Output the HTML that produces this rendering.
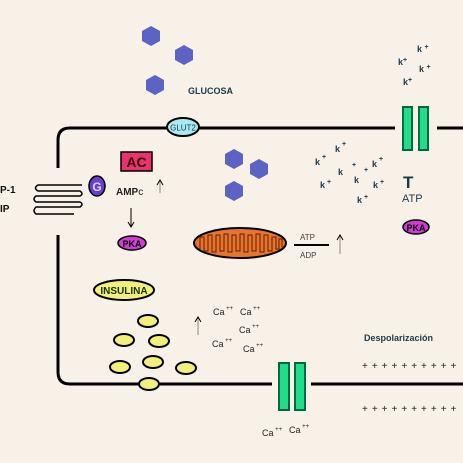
<!DOCTYPE html>
<html><head><meta charset="utf-8"><style>
html,body{margin:0;padding:0;background:#f8f1e8;}
svg{display:block;font-family:"Liberation Sans",sans-serif;}
</style></head><body>
<svg width="463" height="463" viewBox="0 0 463 463">
<rect width="463" height="463" fill="#f8f1e8"/>
<g stroke="#000" stroke-width="3" fill="none">
<path d="M58 168 V140 Q58 128 70 128 H167"/>
<line x1="199" y1="128" x2="395" y2="128"/>
<line x1="437" y1="128" x2="463" y2="128"/>
<path d="M58 235 V372 Q58 384 70 384 H272"/>
<line x1="311" y1="384" x2="463" y2="384"/>
</g>
<g fill="#5b63c4">
<polygon points="151,26 160,31 160,41 151,46 142,41 142,31"/>
<polygon points="184,45 193,50 193,60 184,65 175,60 175,50"/>
<polygon points="155,75 164,80 164,90 155,95 146,90 146,80"/>
<polygon points="234,149 243,154 243,164 234,169 225,164 225,154"/>
<polygon points="259,159 268,164 268,174 259,179 250,174 250,164"/>
<polygon points="234,181 243,186 243,196 234,201 225,196 225,186"/>
</g>
<text x="188" y="94" font-size="9" font-weight="bold" fill="#1a3a4a">GLUCOSA</text>
<g>
<ellipse cx="183" cy="127" rx="16" ry="9" fill="#a8ecf0" stroke="#000" stroke-width="2"/>
<text x="183" y="130.5" font-size="8" text-anchor="middle" fill="#135">GLUT2</text>
</g>
<g fill="#22dd88" stroke="#064" stroke-width="2">
<rect x="403" y="107" width="9" height="43"/><rect x="419" y="107" width="9" height="43"/>
</g>
<g fill="#22dd88" stroke="#064" stroke-width="2">
<rect x="279" y="363" width="10" height="47"/><rect x="295" y="363" width="10" height="47"/>
</g>
<g font-size="9" font-weight="bold" fill="#1a3a4a">
<text x="417" y="52">k <tspan font-size="7" dy="-3">+</tspan></text>
<text x="398" y="65">k<tspan font-size="7" dy="-3">+</tspan></text>
<text x="419" y="72">k <tspan font-size="7" dy="-3">+</tspan></text>
<text x="403" y="85">k<tspan font-size="7" dy="-3">+</tspan></text>
<text x="335" y="152">k<tspan font-size="7" dy="-6"> +</tspan></text>
<text x="315" y="165">k<tspan font-size="7" dy="-6"> +</tspan></text>
<text x="338" y="175">k</text><text x="352" y="167" font-size="7">+</text>
<text x="364" y="172" font-size="7">+</text>
<text x="372" y="167">k<tspan font-size="7" dy="-6"> +</tspan></text>
<text x="354" y="183">k</text>
<text x="320" y="188">k<tspan font-size="7" dy="-4"> +</tspan></text>
<text x="373" y="188">k<tspan font-size="7" dy="-4"> +</tspan></text>
<text x="357" y="203">k<tspan font-size="7" dy="-4"> +</tspan></text>
</g>
<text x="403" y="188" font-size="17" font-weight="bold" fill="#1a3a4a">T</text>
<text x="402" y="202" font-size="11" fill="#1a3a4a">ATP</text>
<g>
<ellipse cx="416" cy="227" rx="13" ry="7" fill="#d23cd6" stroke="#000" stroke-width="1.5"/>
<text x="416" y="231" font-size="9" font-weight="bold" text-anchor="middle">PKA</text>
</g>
<g>
<ellipse cx="240" cy="243" rx="46" ry="15" fill="#e8742e" stroke="#000" stroke-width="2"/>
<path d="M200 249 V237 h4 V251 h4 V235 h4 V252 h4 V235 h4 V251 h4 V234 h4 V252 h4 V235 h4 V251 h4 V234 h4 V252 h4 V235 h4 V251 h4 V234 h4 V252 h4 V235 h4 V251 h4 V237 h4 V249 h3 V239 h3 V247" fill="none" stroke="#5a2000" stroke-width="1"/>
</g>
<g font-size="8" fill="#444">
<text x="300" y="240">ATP</text>
<line x1="294" y1="245" x2="329" y2="245" stroke="#000" stroke-width="2"/>
<text x="300" y="258">ADP</text>
</g>
<g stroke="#888" fill="none" stroke-width="1">
<line x1="340" y1="254" x2="340" y2="236"/><path d="M337 240 L340 235 L343 240" stroke="#000"/>
<line x1="160" y1="193" x2="160" y2="181"/><path d="M157 185 L160 180 L163 185" stroke="#000"/>
<line x1="198" y1="335" x2="198" y2="318"/><path d="M195 322 L198 317 L201 322" stroke="#000"/>
</g>
<g>
<rect x="121" y="152" width="31" height="19" fill="#e8336e" stroke="#000" stroke-width="1.5"/>
<text x="136.5" y="167" font-size="14" font-weight="bold" text-anchor="middle" fill="#300">AC</text>
</g>
<g>
<ellipse cx="97" cy="186" rx="8" ry="10" fill="#6a3fcf" stroke="#000" stroke-width="1.5"/>
<text x="97" y="191" font-size="12" font-weight="bold" text-anchor="middle" fill="#e0d0ff">G</text>
</g>
<text x="116" y="195" font-size="10" font-weight="bold" fill="#222">AMP<tspan font-weight="normal" font-size="10">c</tspan></text>
<g stroke="#000">
<line x1="131" y1="208" x2="131" y2="226"/><path d="M128 222 L131 227 L134 222" fill="none"/>
</g>
<g>
<ellipse cx="132" cy="243" rx="14" ry="7" fill="#d23cd6" stroke="#000" stroke-width="1.5"/>
<text x="132" y="247" font-size="9" font-weight="bold" text-anchor="middle">PKA</text>
</g>
<g stroke="#000" stroke-width="1.5" fill="none">
<path d="M82 185 H38 Q33 188 38 191 H80 Q84 194 80 196 H36 Q32 199 36 202 H80 Q84 204 80 207 H36 Q32 211 36 214 H74"/>
</g>
<text x="0" y="193" font-size="10" font-weight="bold" fill="#111">P-1</text>
<text x="0" y="212" font-size="10" font-weight="bold" fill="#111">IP</text>
<g>
<ellipse cx="124" cy="290" rx="30" ry="10" fill="#f3f07a" stroke="#000" stroke-width="2"/>
<text x="124" y="294" font-size="10" font-weight="bold" text-anchor="middle" fill="#130">INSULINA</text>
</g>
<g fill="#f3f07a" stroke="#000" stroke-width="2">
<ellipse cx="148" cy="321" rx="10" ry="6"/>
<ellipse cx="124" cy="340" rx="10" ry="6"/>
<ellipse cx="159" cy="341" rx="10" ry="6"/>
<ellipse cx="120" cy="367" rx="10" ry="6"/>
<ellipse cx="153" cy="362" rx="10" ry="6"/>
<ellipse cx="186" cy="368" rx="10" ry="6"/>
<ellipse cx="149" cy="384" rx="10" ry="6"/>
</g>
<g font-size="9" fill="#222">
<text x="213" y="315">Ca<tspan font-size="6" dy="-5"> ++</tspan></text>
<text x="240" y="315">Ca<tspan font-size="6" dy="-5"> ++</tspan></text>
<text x="239" y="333">Ca<tspan font-size="6" dy="-5"> ++</tspan></text>
<text x="212" y="347">Ca<tspan font-size="6" dy="-5"> ++</tspan></text>
<text x="243" y="352">Ca<tspan font-size="6" dy="-5"> ++</tspan></text>
<text x="262" y="436">Ca<tspan font-size="6" dy="-5"> ++</tspan></text>
<text x="289" y="433">Ca<tspan font-size="6" dy="-5"> ++</tspan></text>
</g>
<text x="364" y="341" font-size="9" font-weight="bold" fill="#1a3a4a">Despolarización</text>
<text x="362" y="369" font-size="10" fill="#222" letter-spacing="4">++++++++++</text>
<text x="362" y="412" font-size="10" fill="#222" letter-spacing="4">++++++++++</text>
</svg>
</body></html>
